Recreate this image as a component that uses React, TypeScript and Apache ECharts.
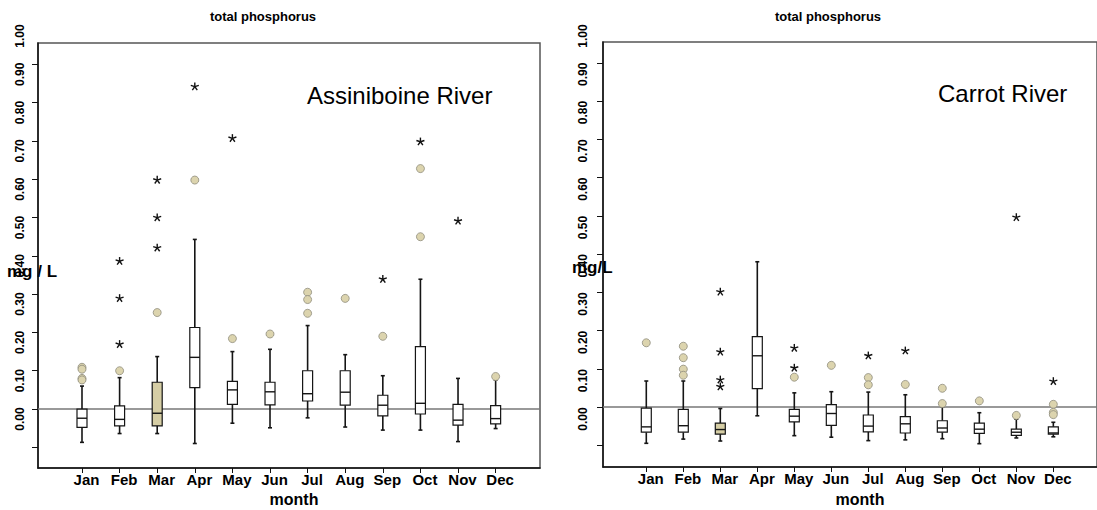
import React, { useEffect, useRef } from "react";
import * as echarts from "echarts";

const months = ["Jan", "Feb", "Mar", "Apr", "May", "Jun", "Jul", "Aug", "Sep", "Oct", "Nov", "Dec"];
const monthValues = [1, 2, 3, 4, 5, 6, 7, 8, 9, 10, 11, 12];
const yTickValues = [-0.1, 0, 0.1, 0.2, 0.3, 0.4, 0.5, 0.6, 0.7, 0.8, 0.9];

// Assiniboine River (left panel)
const assLow = [-0.087, -0.064, -0.064, -0.09, -0.037, -0.049, -0.023, -0.047, -0.055, -0.055, -0.085, -0.051];
const assQ1 = [-0.048, -0.044, -0.044, 0.056, 0.012, 0.011, 0.021, 0.01, -0.018, -0.013, -0.042, -0.039];
const assMed = [-0.024, -0.027, -0.011, 0.135, 0.05, 0.045, 0.04, 0.044, 0.01, 0.015, -0.029, -0.025];
const assQ3 = [0.0, 0.008, 0.07, 0.213, 0.072, 0.07, 0.1, 0.1, 0.036, 0.163, 0.012, 0.009];
const assHigh = [0.06, 0.082, 0.137, 0.443, 0.15, 0.156, 0.218, 0.142, 0.087, 0.339, 0.08, 0.076];
const assCircles = [
  [1, 0.109], [1, 0.104], [1, 0.08], [1, 0.076],
  [2, 0.1], [3, 0.252], [4, 0.598], [5, 0.184], [6, 0.196],
  [7, 0.305], [7, 0.286], [7, 0.25], [8, 0.289], [9, 0.19],
  [10, 0.628], [10, 0.45], [12, 0.085],
];
const assStars = [
  [2, 0.386], [2, 0.289], [2, 0.169],
  [3, 0.598], [3, 0.5], [3, 0.421],
  [4, 0.842], [5, 0.707], [9, 0.339], [10, 0.698], [11, 0.491],
];

// Carrot River (right panel)
const carLow = [-0.095, -0.084, -0.089, -0.023, -0.075, -0.079, -0.088, -0.086, -0.083, -0.096, -0.081, -0.078];
const carQ1 = [-0.066, -0.066, -0.071, 0.048, -0.039, -0.048, -0.065, -0.068, -0.066, -0.069, -0.074, -0.071];
const carMed = [-0.052, -0.049, -0.059, 0.134, -0.024, -0.017, -0.05, -0.044, -0.055, -0.058, -0.066, -0.068];
const carQ3 = [-0.003, -0.006, -0.042, 0.184, -0.006, 0.006, -0.021, -0.025, -0.036, -0.042, -0.058, -0.052];
const carHigh = [0.068, 0.068, -0.004, 0.38, 0.037, 0.04, 0.039, 0.032, 0.001, -0.015, -0.032, -0.04];
const carCircles = [
  [1, 0.168], [2, 0.159], [2, 0.129], [2, 0.099], [2, 0.083],
  [5, 0.078], [6, 0.109], [7, 0.077], [7, 0.058], [8, 0.059],
  [9, 0.049], [9, 0.009], [10, 0.016], [11, -0.022],
  [12, 0.007], [12, -0.014], [12, -0.02],
];
const carStars = [
  [3, 0.301], [3, 0.144], [3, 0.071], [3, 0.053],
  [5, 0.154], [5, 0.102], [7, 0.134], [8, 0.147], [11, 0.496], [12, 0.067],
];

const highlightMonth = "Mar";

const FONT = "'Liberation Sans', Arial, Helvetica, sans-serif";

function boxData(low: number[], q1: number[], med: number[], q3: number[], high: number[]) {
  return monthValues.map((m, i) => [m, low[i], q1[i], med[i], q3[i], high[i]]);
}

const renderBox = (params: any, api: any) => {
  const x = api.value(0);
  const py = (idx: number) => api.coord([x, api.value(idx)])[1];
  const cx = api.coord([x, 0])[0];
  const yLow = py(1), yQ1 = py(2), yMed = py(3), yQ3 = py(4), yHigh = py(5);
  const hw = 5;
  const cap = 2;
  const stroke = "#151515";
  const isHi = months[x - 1] === highlightMonth;
  const fill = isHi ? "#d6cea5" : "#ffffff";
  return {
    type: "group",
    children: [
      { type: "line", shape: { x1: cx, y1: yQ1, x2: cx, y2: yLow }, style: { stroke, lineWidth: 1.6 } },
      { type: "line", shape: { x1: cx - cap, y1: yLow, x2: cx + cap, y2: yLow }, style: { stroke, lineWidth: 1.6 } },
      { type: "line", shape: { x1: cx, y1: yQ3, x2: cx, y2: yHigh }, style: { stroke, lineWidth: 1.6 } },
      { type: "line", shape: { x1: cx - cap, y1: yHigh, x2: cx + cap, y2: yHigh }, style: { stroke, lineWidth: 1.6 } },
      { type: "rect", shape: { x: cx - hw, y: yQ3, width: hw * 2, height: yQ1 - yQ3 }, style: { fill, stroke, lineWidth: 1.2 } },
      { type: "line", shape: { x1: cx - hw, y1: yMed, x2: cx + hw, y2: yMed }, style: { stroke, lineWidth: 1.4 } },
    ],
  };
};

const renderStar = (params: any, api: any) => {
  const [cx, cy] = api.coord([api.value(0), api.value(1)]);
  const r = 4.2;
  const children = [-90, -18, 54, 126, 198].map((a) => {
    const rad = (a * Math.PI) / 180;
    return {
      type: "line",
      shape: { x1: cx, y1: cy, x2: cx + r * Math.cos(rad), y2: cy + r * Math.sin(rad) },
      style: { stroke: "#111", lineWidth: 1.4 },
    };
  });
  return { type: "group", children };
};

export default function App() {
  const ref = useRef<HTMLDivElement>(null);

  useEffect(() => {
    if (!ref.current) return;
    const chart = echarts.init(ref.current, undefined, { renderer: "svg" });

    const mainX = (gridIndex: number) => ({
      type: "value",
      gridIndex,
      min: -0.17,
      max: 13.18,
      axisLine: { show: true, onZero: false, lineStyle: { color: "#111", width: 1.5 } },
      axisTick: { show: true, customValues: monthValues, length: 5, lineStyle: { color: "#111", width: 1 } },
      axisLabel: {
        show: true,
        customValues: monthValues,
        formatter: (v: number) => months[Math.round(v) - 1] || "",
        fontFamily: FONT,
        fontWeight: "bold",
        fontSize: 15,
        color: "#000",
        margin: 4,
        padding: [0, 0, 0, 9],
      },
      splitLine: { show: false },
    });

    const mainY = (gridIndex: number, min: number, max: number) => ({
      type: "value",
      gridIndex,
      min,
      max,
      axisLine: { show: true, onZero: false, lineStyle: { color: "#111", width: 1.5 } },
      axisTick: { show: true, customValues: yTickValues, length: 6, lineStyle: { color: "#111", width: 1 } },
      axisLabel: { show: false },
      splitLine: { show: false },
    });

    const labelX = (gridIndex: number) => ({ type: "value", gridIndex, show: false, min: 0, max: 1 });
    const labelY = (gridIndex: number, margin: number) => ({
      type: "value",
      gridIndex,
      min: 0,
      max: 1,
      interval: 0.1,
      axisLine: { show: false },
      axisTick: { show: false },
      splitLine: { show: false },
      axisLabel: {
        rotate: 90,
        margin,
        formatter: (v: number) => v.toFixed(2),
        fontFamily: FONT,
        fontWeight: "bold",
        fontSize: 12,
        color: "#000",
        showMinLabel: true,
        showMaxLabel: true,
      },
    });

    const panelSeries = (idx: number, boxes: number[][], circles: number[][], stars: number[][]) => [
      {
        type: "scatter",
        xAxisIndex: idx,
        yAxisIndex: idx,
        data: [],
        z: 1,
        markLine: {
          silent: true,
          symbol: "none",
          label: { show: false },
          lineStyle: { color: "#777", width: 1.5, type: "solid" },
          data: [{ yAxis: 0 }],
          z: 1,
        },
      },
      {
        type: "custom",
        xAxisIndex: idx,
        yAxisIndex: idx,
        renderItem: renderBox,
        encode: { x: 0, y: [1, 2, 3, 4, 5] },
        data: boxes,
        z: 3,
      },
      {
        type: "scatter",
        xAxisIndex: idx,
        yAxisIndex: idx,
        symbol: "circle",
        symbolSize: 8,
        itemStyle: { color: "#dcd4ae", borderColor: "#8e8c7c", borderWidth: 0.8, opacity: 1 },
        data: circles,
        z: 4,
      },
      {
        type: "custom",
        xAxisIndex: idx,
        yAxisIndex: idx,
        renderItem: renderStar,
        encode: { x: 0, y: 1 },
        data: stars,
        z: 4,
      },
    ];

    const text = (t: string, x: number, y: number, font: string, align = "left") => ({
      type: "text",
      x,
      y,
      silent: true,
      style: { text: t, font, fill: "#000", align, verticalAlign: "middle" },
    });

    chart.setOption({
      animation: false,
      backgroundColor: "#ffffff",
      grid: [
        { left: 38, top: 43, width: 502, height: 425, show: true, borderColor: "#555", borderWidth: 1.5, backgroundColor: "transparent" },
        { left: 603, top: 42, width: 502, height: 425, show: true, borderColor: "#555", borderWidth: 1.5, backgroundColor: "transparent" },
        { left: 38, top: 36, width: 502, height: 383 },
        { left: 603, top: 36, width: 502, height: 383 },
      ],
      xAxis: [mainX(0), mainX(1), labelX(2), labelX(3)],
      yAxis: [mainY(0, -0.154, 0.956), mainY(1, -0.157, 0.955), labelY(2, 12), labelY(3, 14)],
      series: [
        ...panelSeries(0, boxData(assLow, assQ1, assMed, assQ3, assHigh), assCircles, assStars),
        ...panelSeries(1, boxData(carLow, carQ1, carMed, carQ3, carHigh), carCircles, carStars),
      ],
      graphic: [
        text("total phosphorus", 263, 16, `bold 13px ${FONT}`, "center"),
        text("total phosphorus", 828, 16, `bold 13px ${FONT}`, "center"),
        text("Assiniboine River", 307, 95, `24px ${FONT}`, "left"),
        text("Carrot River", 938, 93, `24px ${FONT}`, "left"),
        text("mg / L", 7, 271, `bold 17px ${FONT}`, "left"),
        text("mg/L", 572, 267, `bold 17px ${FONT}`, "left"),
        text("month", 294, 499, `bold 16px ${FONT}`, "center"),
        text("month", 860, 499, `bold 16px ${FONT}`, "center"),
      ],
    });

    return () => chart.dispose();
  }, []);

  return <div ref={ref} style={{ position: "fixed", left: 0, top: 0, width: 1097, height: 510 }} />;
}
